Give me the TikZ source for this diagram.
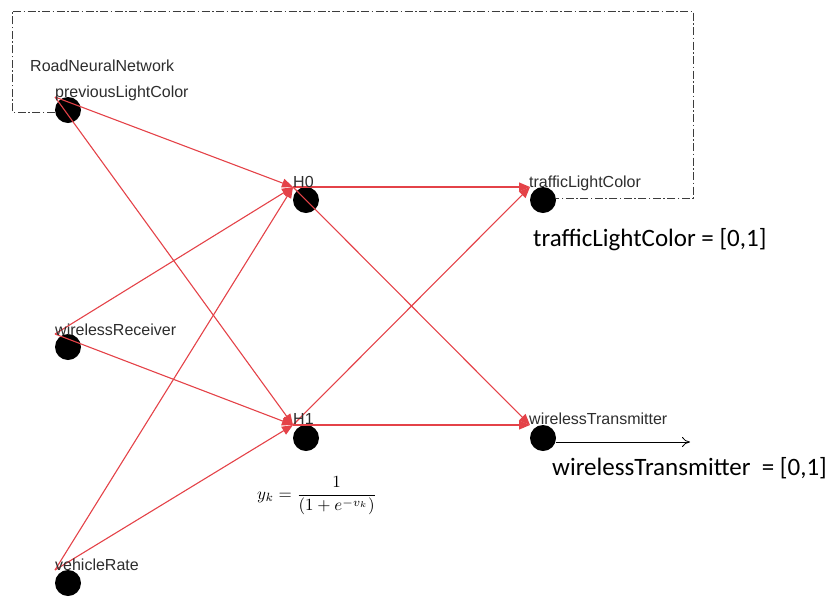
\documentclass[tikz,border=0pt]{standalone}
\usepackage{fontspec}
\setmainfont{Liberation Sans}
\newfontfamily\bigsans{Carlito}
\usetikzlibrary{arrows.meta,calc}
\definecolor{edgered}{RGB}{228,66,72}
\definecolor{labelgray}{RGB}{45,45,45}
\definecolor{boxgray}{RGB}{60,60,60}

\begin{document}
\begin{tikzpicture}[x=1pt,y=-1pt,
  neuron/.style={circle,fill=black,inner sep=0pt,minimum size=26pt},
  tag/.style={anchor=west,inner sep=0pt,text=labelgray,font=\fontsize{16}{18}\selectfont},
  outtext/.style={anchor=west,inner sep=0pt,text=black,font=\bigsans\fontsize{25}{29}\selectfont},
  link/.style={draw=edgered,line width=1.1pt,-{Triangle[length=11pt,width=9pt]}},
  frame/.style={draw=boxgray,line width=0.8pt,dash pattern=on 8pt off 2.5pt on 1.5pt off 2.5pt},
  outarrow/.style={draw=black,line width=0.8pt,-{To[length=8pt,width=10pt]}}]
\useasboundingbox (0,0) rectangle (828,598);

% neurons
\node[neuron] (plc) at (68,110) {};
\node[neuron] (wr)  at (68,347) {};
\node[neuron] (vr)  at (68,583) {};
\node[neuron] (h0)  at (306,200) {};
\node[neuron] (h1)  at (306,438) {};
\node[neuron] (tlc) at (543,200) {};
\node[neuron] (wt)  at (543,438) {};

% connection ports at the upper-left of each neuron
\foreach \n in {plc,wr,vr,h0,h1,tlc,wt}
  \coordinate (\n-p) at ($(\n)+(-13,-13)$);

% network frame
\coordinate (fr-bl) at (12,112);
\coordinate (fr-tl) at (12,11);
\coordinate (fr-tr) at (693,11);
\coordinate (fr-br) at (693,198);
\draw[frame] (plc.west |- fr-bl) -- (fr-bl) -- (fr-tl) -- (fr-tr) -- (fr-br) -- (tlc.east |- fr-br);

% input -> hidden
\foreach \s in {plc,wr,vr}
  \foreach \t in {h0,h1}
    \draw[link] (\s-p) -- (\t-p);
% hidden -> output
\foreach \s in {h0,h1}
  \foreach \t in {tlc,wt}
    \draw[link] (\s-p) -- (\t-p);

% outgoing signal
\coordinate (wt-out) at (690,442);
\draw[outarrow] (wt.east |- wt-out) -- (wt-out);

% labels
\node[tag] (lbl-net) at (30,66) {RoadNeuralNetwork};
\node[tag] (lbl-plc) at (55,93) {previousLightColor};
\node[tag] (lbl-wr)  at (55,330) {wirelessReceiver};
\node[tag] (lbl-vr)  at (55,565) {vehicleRate};
\node[tag] (lbl-h0)  at (293,182) {H0};
\node[tag] (lbl-h1)  at (293,419) {H1};
\node[tag] (lbl-tlc) at (529,183) {trafficLightColor};
\node[tag] (lbl-wt)  at (529,419) {wirelessTransmitter};

\node[outtext] (val-tlc) at (533,240) {trafficLightColor = [0,1]};
\node[outtext] (val-wt)  at (552,468) {wirelessTransmitter\ \ = [0,1]};

% activation function
\node[anchor=west,inner sep=0pt] (act) at (257,496)
  {\scalebox{1.7}{$\displaystyle y_k = \frac{1}{(1+e^{-v_k})}$}};
\end{tikzpicture}
\end{document}
